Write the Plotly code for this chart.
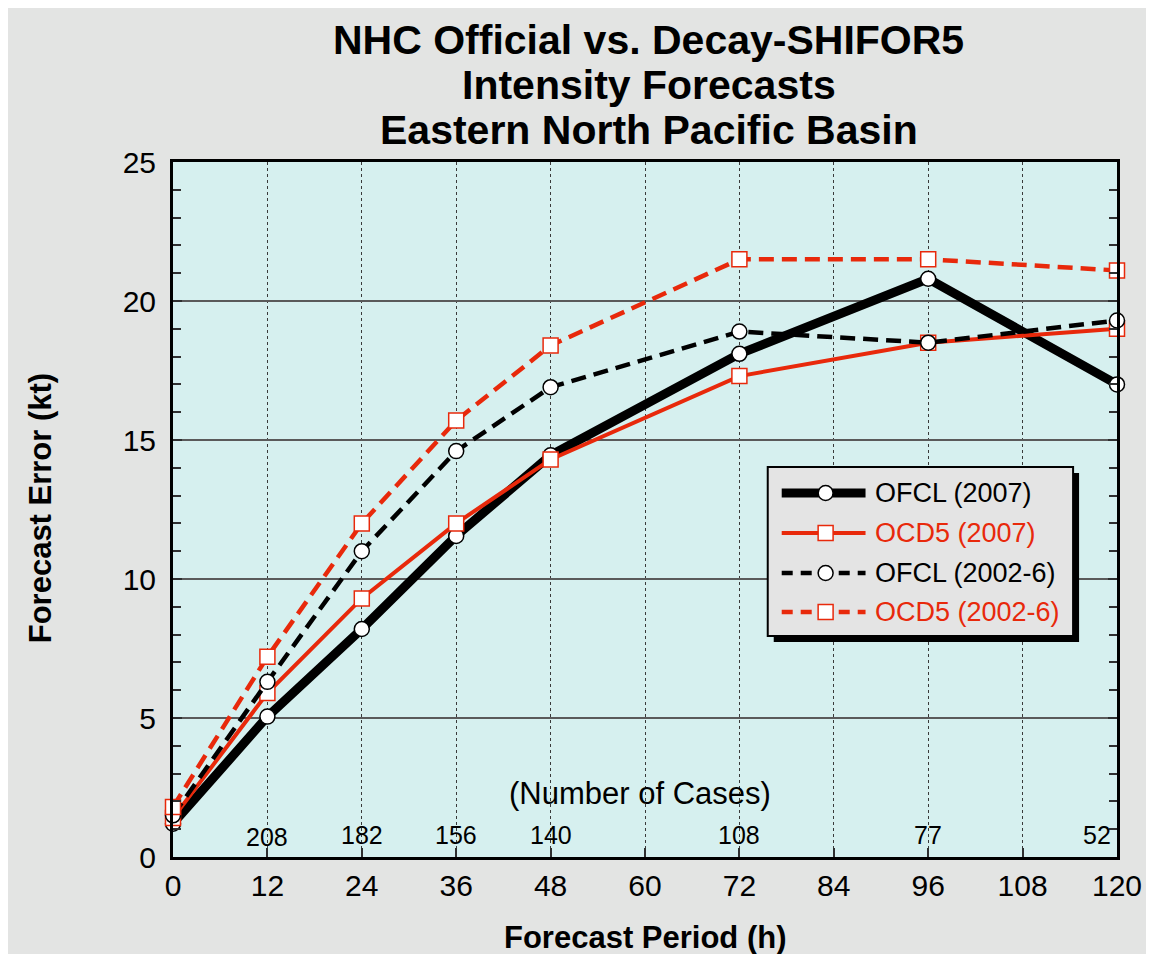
import plotly.graph_objects as go

# ---------------- data ----------------
hours = [0, 12, 24, 36, 48, 72, 96, 120]
ofcl_2007 = [1.2, 5.05, 8.2, 11.55, 14.45, 18.1, 20.8, 17.0]
ocd5_2007 = [1.4, 5.9, 9.3, 12.0, 14.3, 17.3, 18.5, 19.0]
ofcl_0206 = [1.5, 6.3, 11.0, 14.6, 16.9, 18.9, 18.5, 19.3]
ocd5_0206 = [1.8, 7.2, 12.0, 15.7, 18.4, 21.5, 21.5, 21.1]

case_hours = [12, 24, 36, 48, 72, 96, 117.4]
case_counts = ["208", "182", "156", "140", "108", "77", "52"]
case_y = [0.72, 0.8, 0.8, 0.8, 0.8, 0.8, 0.8]

x_ticks = [0, 12, 24, 36, 48, 60, 72, 84, 96, 108, 120]
y_ticks = [0, 5, 10, 15, 20, 25]

title_lines = ["NHC Official vs. Decay-SHIFOR5", "Intensity Forecasts",
               "Eastern North Pacific Basin"]
legend_names = ["OFCL (2007)", "OCD5 (2007)", "OFCL (2002-6)", "OCD5 (2002-6)"]

RED = "#e8290b"
BLACK = "#000000"
FONT = "Liberation Sans, Arial, sans-serif"

# page geometry (the page body adds an 8px offset)
OFF = 8
W, H = 1154 - OFF, 962 - 2 * OFF
# plot area in page pixels
L, R, T, B = 173, 1119, 162, 857


def px(xp):
    return (xp - L) / (R - L)


def py(yp):
    return (B - yp) / (B - T)


fig = go.Figure()

styles = [
    (ofcl_2007, BLACK, 9, "solid", "circle", BLACK),
    (ocd5_2007, RED, 4, "solid", "square", RED),
    (ofcl_0206, BLACK, 4.5, "15px,8px", "circle", BLACK),
    (ocd5_0206, RED, 4.5, "15px,8px", "square", RED),
]
for (vals, col, lw, dash, sym, mcol), name in zip(styles, legend_names):
    fig.add_trace(go.Scatter(
        x=hours, y=vals, name=name, mode="lines+markers",
        line=dict(color=col, width=lw, dash=dash),
        marker=dict(symbol=sym, size=15, color="white",
                    line=dict(color=mcol, width=1.5)),
        cliponaxis=False, showlegend=False,
    ))

annotations = []
# titles
for t, yp in zip(title_lines, [40, 85, 130]):
    annotations.append(dict(text="<b>%s</b>" % t, xref="paper", yref="paper",
                            x=px(650), y=py(yp), showarrow=False,
                            xanchor="center", yanchor="middle",
                            font=dict(family=FONT, size=41, color="black")))
# case counts
for xv, yv, c in zip(case_hours, case_y, case_counts):
    annotations.append(dict(text=c, x=xv, y=yv, xref="x", yref="y",
                            showarrow=False, xanchor="center", yanchor="middle",
                            font=dict(family=FONT, size=25, color="black")))
annotations.append(dict(text="(Number of Cases)", x=59.4, y=2.3, xref="x", yref="y",
                        showarrow=False, xanchor="center", yanchor="middle",
                        font=dict(family=FONT, size=31, color="black")))
# axis titles
annotations.append(dict(text="<b>Forecast Period (h)</b>", xref="paper", yref="paper",
                        x=px(646), y=py(937), showarrow=False,
                        xanchor="center", yanchor="middle",
                        font=dict(family=FONT, size=31, color="black")))
annotations.append(dict(text="<b>Forecast Error (kt)</b>", xref="paper", yref="paper",
                        x=px(40), y=py(508), showarrow=False, textangle=-90,
                        xanchor="center", yanchor="middle",
                        font=dict(family=FONT, size=31, color="black")))

shapes = []
# legend box with shadow
bx0, bx1, by0, by1 = 769, 1075, 467, 636
shapes.append(dict(type="rect", xref="paper", yref="paper",
                   x0=px(bx0 + 6), x1=px(bx1 + 6), y0=py(by0 + 6), y1=py(by1 + 6),
                   fillcolor="black", line=dict(width=0)))
shapes.append(dict(type="rect", xref="paper", yref="paper",
                   x0=px(bx0), x1=px(bx1), y0=py(by0), y1=py(by1),
                   fillcolor="#e4e4e4", line=dict(color="black", width=2)))
rows = [493, 533, 573, 612]
for (vals, col, lw, dash, sym, mcol), name, ry in zip(styles, legend_names, rows):
    shapes.append(dict(type="line", xref="paper", yref="paper",
                       x0=px(783), x1=px(867), y0=py(ry), y1=py(ry),
                       line=dict(color=col, width=lw,
                                 dash="11px,8px" if dash != "solid" else "solid")))
    r = 7.5
    shapes.append(dict(type="circle" if sym == "circle" else "rect",
                       xref="paper", yref="paper",
                       x0=px(827 - r), x1=px(827 + r), y0=py(ry - r), y1=py(ry + r),
                       fillcolor="white", line=dict(color=mcol, width=1.5)))
    annotations.append(dict(text=name, xref="paper", yref="paper", x=px(874), y=py(ry),
                            showarrow=False, xanchor="left", yanchor="middle",
                            font=dict(family=FONT, size=27, color=col)))

fig.update_layout(
    width=W, height=H,
    margin=dict(l=L - OFF, r=W - (R - OFF), t=T - OFF, b=H - (B - OFF), pad=0),
    paper_bgcolor="#e3e4e3",
    plot_bgcolor="#d6f0ef",
    showlegend=False,
    annotations=annotations,
    shapes=shapes,
    font=dict(family=FONT, color="black"),
)
fig.update_xaxes(
    range=[0, 120], tickvals=x_ticks, ticktext=[str(v) for v in x_ticks],
    showgrid=True, gridcolor="#3a3a3a", gridwidth=1, griddash="dot",
    ticks="inside", ticklen=9, tickwidth=1.5, tickcolor="#303030",
    showline=True, linecolor="black", linewidth=3, mirror=True,
    tickfont=dict(family=FONT, size=30, color="black"),
    ticklabelstandoff=0, zeroline=False, fixedrange=True,
)
fig.update_yaxes(
    range=[0, 25], tickvals=y_ticks, ticktext=[str(v) for v in y_ticks],
    showgrid=True, gridcolor="#5a5a5a", gridwidth=1.5,
    ticks="inside", ticklen=9, tickwidth=1.5, tickcolor="#303030",
    minor=dict(dtick=1, ticks="inside", ticklen=8, tickwidth=1.5, tickcolor="#303030",
               showgrid=False),
    showline=True, linecolor="black", linewidth=3, mirror="allticks",
    tickfont=dict(family=FONT, size=30, color="black"),
    ticklabelstandoff=8, zeroline=False, fixedrange=True,
)

fig.write_html("out.html")
